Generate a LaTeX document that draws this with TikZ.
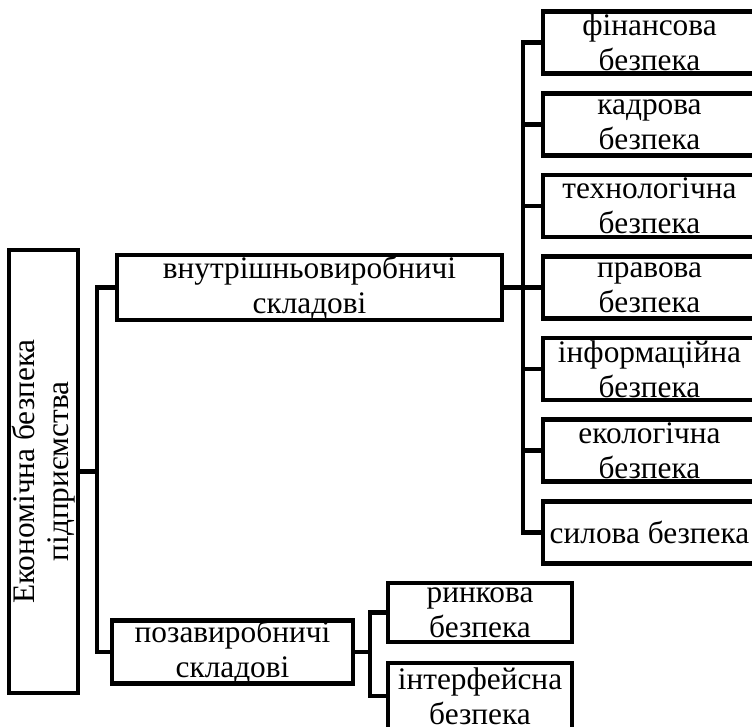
\documentclass[tikz,border=0pt]{standalone}
\usepackage{fontspec}
\setmainfont{Liberation Serif}
\usetikzlibrary{positioning}

\begin{document}
\begin{tikzpicture}[
    x=0.75pt, y=-0.75pt,
    box/.style={rectangle, draw=black, line width=3.2pt, align=center, inner sep=0pt, font=\fontsize{23.5}{26}\selectfont},
    leaf/.style={box, minimum width=159.75pt, minimum height=46.5pt},
    conn/.style={draw=black, line width=3.2pt, line join=miter}
]
    \path[use as bounding box, clip] (0,0) rectangle (752,726);

    % Root
    \node[box, rotate=90, minimum width=332.25pt, minimum height=51.75pt] (main) at (43.5,471.5)
        {Економічна безпека\\підприємства};

    % Groups
    \node[box, minimum width=288.75pt, minimum height=48.75pt] (inner) at (309.5,287.5)
        {внутрішньовиробничі\\складові};
    \node[box, minimum width=180.75pt, minimum height=43.5pt] (outer) at (232.5,652)
        {позавиробничі\\складові};

    % Internal components
    \node[leaf] (fin)  at (649.5,42.5)  {фінансова\\безпека};
    \node[leaf] (kadr) at (649.5,124.5) {кадрова\\безпека};
    \node[leaf] (tekh) at (649.5,206)   {технологічна\\безпека};
    \node[leaf] (prav) at (649.5,287.5) {правова\\безпека};
    \node[leaf] (info) at (649.5,369)   {інформаційна\\безпека};
    \node[leaf] (ekol) at (649.5,450.5) {екологічна\\безпека};
    \node[leaf] (sil)  at (649.5,532.5) {силова безпека};

    % External components
    \node[box, minimum width=138pt, minimum height=44.25pt] (rynk) at (480,612.5) {ринкова\\безпека};
    \node[box, minimum width=138pt, minimum height=49.5pt] (intf) at (480,696) {інтерфейсна\\безпека};

    % Buses
    \coordinate (busA) at (97,0);
    \coordinate (busB) at (523,0);
    \coordinate (busC) at (370,0);

    \draw[conn] (main.south) -- (main.south -| busA);
    \draw[conn] (inner.west) -- (inner.west -| busA) |- (outer.west);

    \draw[conn] (inner.east) -- (inner.east -| busB);
    \draw[conn] (fin.west) -- (fin.west -| busB) |- (sil.west);
    \draw[conn] (kadr.west) -- (kadr.west -| busB);
    \draw[conn] (tekh.west) -- (tekh.west -| busB);
    \draw[conn] (prav.west) -- (prav.west -| busB);
    \draw[conn] (info.west) -- (info.west -| busB);
    \draw[conn] (ekol.west) -- (ekol.west -| busB);

    \draw[conn] (outer.east) -- (outer.east -| busC);
    \draw[conn] (rynk.west) -- (rynk.west -| busC) |- (intf.west);
\end{tikzpicture}
\end{document}
